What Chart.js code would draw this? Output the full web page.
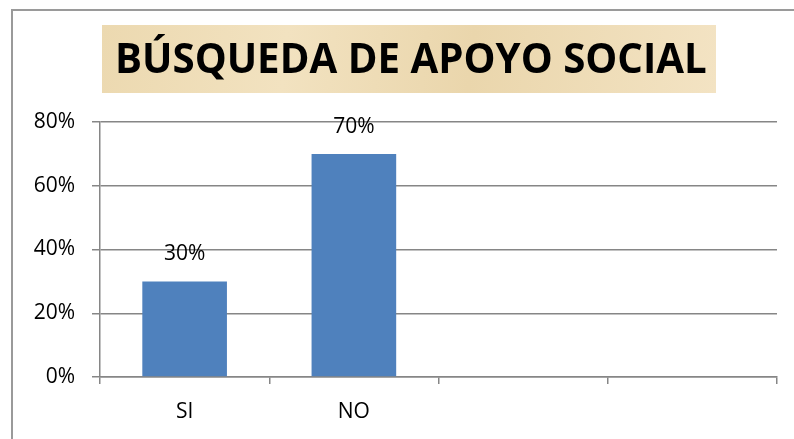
<!DOCTYPE html>
<html>
<head>
<meta charset="utf-8">
<script src="https://cdn.jsdelivr.net/npm/chart.js@4.4.1/dist/chart.umd.min.js"></script>
<style>
    html, body { margin: 0; padding: 0; background: #fff; }
    #wrap { width: 794px; height: 439px; position: relative; }
</style>
</head>
<body>
<div id="wrap"><canvas id="chart" width="794" height="439"></canvas></div>
<script>
// chart data
const titleText = 'BÚSQUEDA DE APOYO SOCIAL';
const categories = ['SI', 'NO', '', ''];
const values = [0.30, 0.70, null, null];
const yTicks = [0, 0.2, 0.4, 0.6, 0.8];

const fontFamily = '"Open Sans", "Noto Sans", sans-serif';

function pct(v) {
    return Math.round(v * 100) + '%';
}

// outer frame + parchment title box
const framePlugin = {
    id: 'frame',
    beforeDraw(chart) {
        const ctx = chart.ctx;
        ctx.save();
        ctx.fillStyle = '#fff';
        ctx.fillRect(0, 0, chart.width, chart.height);
        ctx.strokeStyle = '#9a9a9a';
        ctx.lineWidth = 2;
        ctx.strokeRect(12, 10, chart.width + 20, chart.height + 20);

        // title box
        let x0 = 102, y0 = 25, w = 614, h = 68;
        let grad = ctx.createLinearGradient(x0, y0, x0 + w, y0 + h);
        grad.addColorStop(0, '#ecd9b0');
        grad.addColorStop(0.3, '#f2e2c0');
        grad.addColorStop(0.6, '#ead6ac');
        grad.addColorStop(1, '#f3e3c3');
        ctx.fillStyle = grad;
        ctx.fillRect(x0, y0, w, h);

        // fit title to the width it takes in the original
        ctx.fillStyle = '#000';
        ctx.textBaseline = 'alphabetic';
        ctx.textAlign = 'left';
        let size = 40;
        ctx.font = 'bold ' + size + 'px ' + fontFamily;
        let tw = ctx.measureText(titleText).width;
        size = size * 592 / tw;
        ctx.font = 'bold ' + size + 'px ' + fontFamily;
        ctx.fillText(titleText, 115, 73);
        ctx.restore();
    }
};

// value labels above bars
const labelPlugin = {
    id: 'barLabels',
    afterDatasetsDraw(chart) {
        const ctx = chart.ctx;
        const meta = chart.getDatasetMeta(0);
        ctx.save();
        ctx.fillStyle = '#000';
        ctx.font = '21px ' + fontFamily;
        ctx.textAlign = 'center';
        ctx.textBaseline = 'middle';
        meta.data.forEach((bar, i) => {
            if (values[i] == null) return;
            ctx.fillText(pct(values[i]), bar.x, bar.y - 27);
        });
        ctx.restore();
    }
};

new Chart(document.getElementById('chart'), {
    type: 'bar',
    data: {
        labels: categories,
        datasets: [{
            data: values,
            backgroundColor: '#4f81bd',
            borderWidth: 0,
            categoryPercentage: 0.5,
            barPercentage: 1.0
        }]
    },
    options: {
        responsive: false,
        animation: false,
        layout: {
            padding: {top: 122, right: 17, left: 0, bottom: 0}
        },
        plugins: {
            legend: {display: false},
            tooltip: {enabled: false},
            title: {display: false}
        },
        scales: {
            x: {
                grid: {
                    offset: true,
                    drawOnChartArea: false,
                    drawTicks: true,
                    tickLength: 7,
                    color: '#868686',
                    lineWidth: 1.5
                },
                border: {color: '#868686', width: 1.5},
                ticks: {
                    color: '#000',
                    font: {family: fontFamily, size: 21},
                    padding: 15,
                    maxRotation: 0,
                    autoSkip: false
                },
                afterFit(scale) {
                    scale.height = 62;
                }
            },
            y: {
                min: 0,
                max: 0.8,
                afterBuildTicks(scale) {
                    scale.ticks = yTicks.map(v => ({value: v}));
                },
                grid: {
                    color: '#868686',
                    lineWidth: 1.5,
                    drawTicks: true,
                    tickLength: 8
                },
                border: {color: '#868686', width: 1.5},
                ticks: {
                    color: '#000',
                    font: {family: fontFamily, size: 21},
                    padding: 17,
                    callback: (v) => pct(v)
                },
                afterFit(scale) {
                    scale.width = 100;
                }
            }
        }
    },
    plugins: [framePlugin, labelPlugin]
});
</script>
</body>
</html>
